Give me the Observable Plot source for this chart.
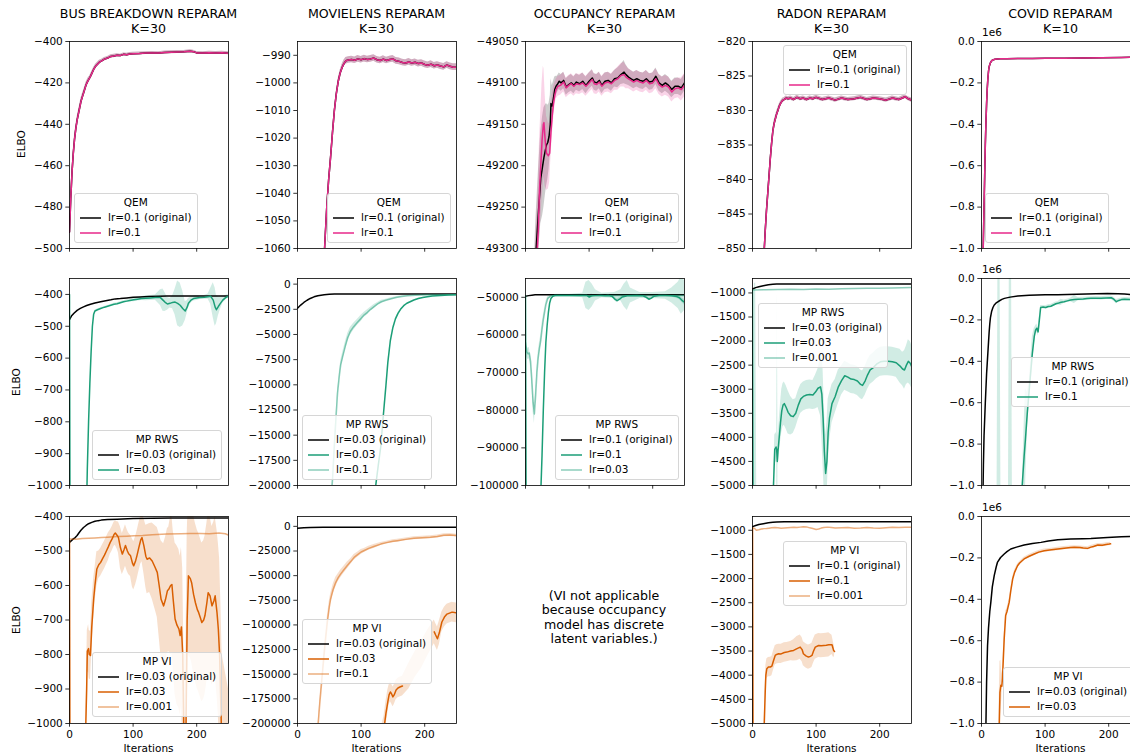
<!DOCTYPE html>
<html><head><meta charset="utf-8">
<script src="https://cdn.jsdelivr.net/npm/d3@7"></script>
<script src="https://cdn.jsdelivr.net/npm/@observablehq/plot@0.6"></script>
<style>
body{margin:0;background:#fff;overflow:hidden;}
#fig{position:relative;width:1130px;height:755px;overflow:hidden;font-family:"DejaVu Sans",sans-serif;color:#000;background:#fff;}
.t{position:absolute;white-space:nowrap;}
.title{font-size:12.6px;line-height:14.5px;text-align:center;transform:translateX(-50%);}
.ylab{font-size:10.5px;transform:translate(-50%,-50%) rotate(-90deg);}
.xlab{font-size:10.5px;transform:translateX(-50%);}
.off{font-size:10.5px;}
.note{font-size:12.6px;line-height:14.4px;text-align:center;transform:translateX(-50%);}
.legend{position:absolute;border:1px solid #d6d6d6;border-radius:3px;background:rgba(255,255,255,0.8);font-size:10.5px;padding:1px 5px 2px 5px;white-space:nowrap;}
.lt{text-align:center;height:15px;line-height:15px;}
.le{display:flex;align-items:center;height:15px;line-height:15px;}
.le svg{margin-right:7px;flex:none;}
.plot{position:absolute;}
.plot svg{max-width:none !important;display:block;}
</style></head>
<body><div id="fig"></div>
<script>
// ---------------- data (iteration, ELBO, spread) ----------------
const BLACK = "#000000", GREEN = "#1b9e77", ORANGE = "#d95f02", PINK = "#e7298a";
const iterTicks = [0, 100, 200];

// QEM row
const busQemTicks = [-500, -480, -460, -440, -420, -400];
const busQem = [[0,-492,3],[2,-476,3],[4,-463,2],[6,-454,2],[8,-447,2],[10,-442,1.5],[12,-438,1.5],[14,-435,1.5],[16,-432,1.5],[18,-429,1.5],[20,-427,1.5],[23,-424,1.2],[26,-421,1.2],[29,-419,1.2],[32,-417.5,1],[35,-415.5,1],[38,-413.5,1],[41,-412,1],[44,-411,1],[47,-410,1],[50,-409.5,0.8],[55,-408.5,0.8],[60,-408,0.8],[65,-407.2,0.8],[70,-407,0.8],[75,-406.6,0.7],[80,-406.8,0.7],[85,-406.2,0.7],[90,-406.4,0.7],[95,-406,0.7],[100,-405.9,0.7],[110,-405.8,0.7],[120,-405.6,0.7],[130,-405.5,0.7],[140,-405.6,0.7],[150,-405.3,0.7],[160,-405.2,0.7],[170,-405.1,0.7],[180,-405,0.7],[190,-404.7,0.7],[195,-404.9,0.7],[200,-405.5,0.7],[210,-405.6,0.7],[220,-405.4,0.7],[230,-405.5,0.7],[240,-405.4,0.7],[250,-405.7,0.7]];

const movQemTicks = [-1060, -1050, -1040, -1030, -1020, -1010, -1000, -990];
const movQem = [[0,-1400,0],[20,-1200,0],[35,-1100,0],[40,-1072,1],[43,-1058,1],[46,-1045,1],[49,-1035,1],[52,-1027,1],[55,-1018,1],[58,-1010,1],[61,-1004,1],[64,-999.5,1],[67,-996.5,1],[70,-994.5,1.2],[73,-993,1.2],[76,-992,1.2],[80,-991.7,1.2],[85,-991.5,1.2],[90,-991.8,1.2],[95,-991.3,1.2],[100,-991.6,1.2],[105,-991.2,1.2],[110,-991.5,1.2],[115,-991.3,1.2],[120,-991.0,1.2],[125,-991.6,1.2],[130,-991.9,1.2],[135,-991.4,1.2],[140,-991.9,1.2],[145,-991.5,1.2],[150,-991.3,1.2],[155,-992.0,1.2],[160,-992.2,1.2],[165,-992.6,1.2],[170,-992.8,1.2],[175,-992.4,1.2],[180,-992.8,1.2],[185,-992.5,1.2],[190,-993.0,1.2],[195,-992.8,1.2],[200,-993.3,1.2],[205,-993.6,1.2],[210,-993.2,1.2],[215,-993.8,1.2],[220,-993.5,1.2],[225,-993.9,1.2],[230,-994.2,1.2],[235,-993.5,1.2],[240,-994.0,1.2],[245,-994.3,1.2],[250,-994.3,1.2]];

const occQemTicks = [-49300, -49250, -49200, -49150, -49100, -49050];
const occQemOrig = [[0,-49600,0],[10,-49420,20],[16,-49310,40],[20,-49260,50],[24,-49215,55],[27,-49200,60],[29,-49190,60],[31,-49182,55],[33,-49175,50],[35,-49172,45],[37,-49165,40],[39,-49150,35],[40,-49125,30],[42,-49128,25],[44,-49118,20],[46,-49108,15],[48,-49104,12],[50,-49102,10],[53,-49098,10],[56,-49100,10],[60,-49097,10],[64,-49105,10],[68,-49102,10],[72,-49100,10],[76,-49103,10],[80,-49099,10],[85,-49101,10],[90,-49098,10],[95,-49103,10],[100,-49098,10],[105,-49094,10],[108,-49099,10],[112,-49100,10],[116,-49097,10],[120,-49103,10],[125,-49098,10],[130,-49097,10],[135,-49100,10],[140,-49095,10],[145,-49094,12],[150,-49090,12],[155,-49087,14],[158,-49090,12],[162,-49093,10],[166,-49095,10],[170,-49097,10],[175,-49095,10],[180,-49097,10],[185,-49098,10],[190,-49095,10],[195,-49099,10],[200,-49098,10],[205,-49092,10],[210,-49100,10],[215,-49103,10],[220,-49100,10],[225,-49103,10],[230,-49108,10],[235,-49104,10],[240,-49104,10],[245,-49106,10],[250,-49100,10]];
const occQemLr01 = [[0,-49600,0],[10,-49420,20],[17,-49320,45],[20,-49280,55],[22,-49230,60],[24,-49200,65],[26,-49170,70],[28,-49150,70],[29,-49148,65],[31,-49170,55],[33,-49185,45],[36,-49188,40],[38,-49185,35],[40,-49160,30],[42,-49140,25],[44,-49125,20],[46,-49115,15],[48,-49108,12],[51,-49104,12],[55,-49103,12],[60,-49099,12],[64,-49106,12],[68,-49103,12],[72,-49101,12],[76,-49104,12],[80,-49101,12],[85,-49102,12],[90,-49100,12],[95,-49104,12],[100,-49100,12],[105,-49096,12],[108,-49101,12],[112,-49102,12],[116,-49099,12],[120,-49104,12],[125,-49100,12],[130,-49099,12],[135,-49101,12],[140,-49097,12],[145,-49095,14],[150,-49091,14],[155,-49090,15],[158,-49093,14],[162,-49095,12],[166,-49097,12],[170,-49099,12],[175,-49097,12],[180,-49099,12],[185,-49100,12],[190,-49097,12],[195,-49101,12],[200,-49100,12],[205,-49095,12],[210,-49102,12],[215,-49105,12],[220,-49103,12],[225,-49105,12],[230,-49111,12],[235,-49107,12],[240,-49106,12],[245,-49108,14],[250,-49103,14]];

const radQemTicks = [-850, -845, -840, -835, -830, -825, -820];
const radQem = [[0,-900,0],[10,-872,0],[15,-860,0.5],[18,-851,0.5],[20,-847.5,0.5],[22,-844.5,0.5],[24,-842,0.5],[26,-839.5,0.5],[28,-837,0.5],[30,-834.8,0.4],[32,-833,0.4],[34,-831.9,0.4],[36,-831.2,0.4],[38,-830.5,0.4],[40,-830,0.4],[42,-829.4,0.3],[44,-829,0.3],[46,-828.7,0.3],[48,-828.5,0.3],[50,-828.4,0.3],[53,-828.2,0.3],[56,-828.3,0.3],[60,-828.2,0.3],[65,-828.4,0.3],[70,-828.1,0.3],[75,-828.3,0.3],[80,-828.2,0.3],[85,-828.4,0.3],[90,-828.2,0.3],[95,-828.3,0.3],[100,-828.1,0.3],[110,-828.4,0.3],[120,-828.2,0.3],[130,-828.5,0.3],[140,-828.2,0.3],[150,-828.4,0.3],[160,-828.3,0.3],[170,-828.1,0.3],[180,-828.4,0.3],[190,-828.2,0.3],[200,-828.3,0.3],[210,-828.5,0.3],[220,-828.2,0.3],[230,-828.4,0.3],[240,-828.0,0.3],[245,-828.3,0.3],[250,-828.5,0.3]];

const covTicks = [-1000000, -800000, -600000, -400000, -200000, 0];
const covQem = [[0,-1500000],[2,-1100000],[3,-950000],[4,-800000],[5,-650000],[6,-500000],[7,-390000],[8,-300000],[9,-230000],[10,-180000],[11,-145000],[12,-122000],[14,-103000],[16,-93000],[18,-89000],[21,-86000],[25,-84500],[30,-83500],[40,-83000],[60,-82500],[80,-82000],[100,-81500],[130,-81000],[160,-80000],[190,-78500],[220,-77000],[250,-75500]];

// MP RWS row
const busRwsTicks = [-1000, -900, -800, -700, -600, -500, -400];
const busRwsOrig = [[0,-479],[3,-468],[7,-459],[12,-450],[17,-444],[22,-439],[27,-435],[33,-431],[40,-427],[49,-423],[57,-420],[65,-417],[72,-414],[80,-413],[90,-411],[100,-409],[111,-408],[125,-406.5],[140,-405.5],[153,-405],[170,-405],[200,-405],[250,-405]];
const busRwsLr003 = [[0,-400,30],[1,-1300,0],[10,-1500,0],[26,-1150,0],[28,-950,0],[30,-800,0],[32,-680,0],[34,-580,0],[36,-500,0],[38,-462,2],[40,-452,2],[44,-448,2],[49,-444,2],[55,-440,2],[60,-437,2],[65,-434,2],[70,-431,3],[75,-429,3],[80,-426,3],[85,-423,3],[90,-421,4],[95,-419,4],[101,-417,6],[107,-415,6],[113,-413,6],[120,-412,8],[127,-411,8],[135,-410,8],[143,-410,25],[147,-418,35],[150,-424,30],[154,-430,20],[158,-428,15],[162,-425,20],[166,-424,40],[170,-428,70],[174,-434,70],[178,-444,55],[182,-452,30],[185,-440,20],[187,-428,15],[191,-418,10],[195,-413,8],[200,-411,8],[205,-410,6],[212,-409,6],[218,-407,8],[222,-406,25],[226,-418,55],[229,-440,60],[231,-448,45],[234,-438,30],[237,-429,20],[241,-418,10],[245,-411,8],[250,-405,5]];

const movRwsTicks = [-20000, -17500, -15000, -12500, -10000, -7500, -5000, -2500, 0];
const movRwsOrig = [[0,-2400],[5,-2080],[10,-1820],[15,-1600],[20,-1420],[26,-1260],[32,-1150],[42,-1050],[50,-1010],[58,-990],[70,-980],[100,-975],[150,-975],[200,-975],[250,-975]];
const movRwsLr01 = [[0,-60000,0],[40,-35000,0],[52,-22000,300],[55,-19500,300],[58,-16000,350],[61,-12800,400],[63,-10800,400],[66,-9000,400],[68,-8000,400],[71,-7200,400],[75,-6200,400],[79,-5300,400],[83,-4700,400],[88,-4250,350],[94,-3800,300],[100,-3400,300],[105,-3050,250],[110,-2800,250],[115,-2500,200],[120,-2250,200],[126,-1970,150],[132,-1750,150],[139,-1600,100],[146,-1480,100],[155,-1330,80],[164,-1220,60],[173,-1150,50],[185,-1100,40],[197,-1070,30],[209,-1055,30],[225,-1050,30],[250,-1048,30]];
const movRwsLr003 = [[0,-80000,0],[100,-40000,0],[118,-25000,0],[123,-20000,100],[127,-18000,100],[131,-16100,100],[135,-13000,100],[139,-10100,100],[142,-7800,100],[146,-5600,100],[150,-4300,80],[154,-3450,60],[158,-2900,50],[162,-2500,40],[167,-2140,30],[172,-1900,30],[178,-1730,30],[183,-1580,30],[190,-1420,30],[197,-1320,30],[204,-1250,30],[212,-1190,30],[225,-1120,30],[237,-1080,30],[250,-1053,30]];

const occRwsTicks = [-100000, -90000, -80000, -70000, -60000, -50000];
const occRwsOrig = [[0,-49700],[5,-49550],[10,-49420],[15,-49350],[20,-49320],[30,-49300],[250,-49300]];
const occRwsLr01 = [[0,-49600,0],[1,-110000,0],[20,-110000,0],[24,-102000,0],[26,-92000,0],[28,-80000,0],[30,-70000,0],[32,-62000,0],[34,-57500,0],[36,-54000,0],[38,-51500,0],[40,-50300,0],[43,-49700,0],[46,-49500,0],[60,-49500,0],[80,-49500,0],[96,-49500,0],[100,-49900,500],[104,-49600,500],[110,-49550,0],[118,-49500,0],[125,-49600,0],[130,-49500,0],[136,-49700,300],[140,-50400,500],[144,-50900,500],[148,-50500,400],[152,-49900,300],[160,-49600,0],[175,-49500,0],[185,-49600,300],[190,-50000,400],[194,-50500,400],[198,-50200,300],[202,-49700,0],[210,-49500,0],[220,-49500,0],[230,-49600,300],[238,-49800,500],[242,-50100,500],[246,-50800,600],[250,-51300,800]];
const occRwsLr003 = [[0,-62000,800],[2,-64500,1500],[4,-65000,1500],[6,-64800,1500],[8,-67000,1500],[10,-72000,2000],[12,-78000,2500],[14,-81000,2500],[16,-76000,2000],[18,-70000,2000],[20,-66000,1500],[22,-63500,1500],[24,-61500,1500],[26,-58500,1500],[28,-56000,1200],[30,-54000,1000],[32,-52000,800],[35,-50300,500],[40,-49600,300],[50,-49500,300],[70,-49500,300],[90,-49500,600],[95,-49500,3500],[100,-49500,4000],[105,-49500,3000],[110,-49500,1500],[120,-49500,600],[140,-49500,800],[150,-49500,1500],[155,-49500,3000],[160,-49500,4000],[165,-49500,2000],[180,-49500,800],[200,-49500,800],[220,-49500,1000],[230,-49500,2000],[240,-49500,3500],[245,-49500,5000],[250,-49500,4000]];

const radRwsTicks = [-5000, -4500, -4000, -3500, -3000, -2500, -2000, -1500, -1000];
const radRwsOrig = [[0,-917],[5,-890],[10,-870],[17,-849],[25,-830],[32,-820],[38,-815],[50,-813],[250,-813]];
const radRwsLr003 = [[0,-950,0],[1,-6000,0],[2,-6000,0],[3,-6000,5200],[5,-6000,5200],[7,-6000,0],[30,-6000,0],[33,-5000,100],[35,-4250,300],[37,-4200,300],[38,-4250,300],[39,-4500,3500],[40,-4300,300],[42,-4000,350],[44,-3700,400],[46,-3450,450],[48,-3330,450],[50,-3300,450],[53,-3380,450],[56,-3480,450],[60,-3550,400],[64,-3570,350],[68,-3500,300],[72,-3330,300],[76,-3200,300],[80,-3150,300],[85,-3120,300],[90,-3110,300],[95,-3120,300],[99,-3060,350],[103,-2980,400],[107,-2950,600],[109,-3100,900],[111,-3600,1000],[113,-4300,900],[115,-4750,800],[117,-4500,800],[119,-3900,700],[121,-3600,500],[125,-3300,400],[130,-3150,350],[135,-2950,350],[140,-2820,300],[145,-2720,300],[150,-2750,300],[155,-2790,300],[160,-2800,300],[165,-2830,300],[170,-2900,300],[173,-2920,300],[177,-2830,300],[181,-2700,300],[185,-2600,300],[190,-2550,300],[195,-2480,300],[201,-2430,300],[207,-2420,300],[213,-2420,300],[220,-2430,300],[226,-2450,300],[232,-2520,350],[236,-2580,350],[239,-2600,400],[242,-2500,400],[245,-2420,450],[248,-2460,450],[250,-2520,450]];
const radRwsLr0001 = [[0,-940],[20,-935],[40,-930],[60,-925],[80,-930],[100,-920],[120,-925],[140,-915],[160,-910],[180,-905],[200,-900],[220,-895],[250,-885]];

const covRwsOrig = [[0,-1500000],[2,-1100000],[3,-900000],[4,-760000],[5,-680000],[6,-600000],[7,-530000],[8,-460000],[9,-410000],[10,-360000],[11,-310000],[12,-260000],[13,-220000],[14,-190000],[16,-158000],[18,-140000],[20,-128000],[23,-118000],[27,-110000],[32,-101000],[36,-96000],[45,-90000],[57,-84000],[75,-81000],[100,-79000],[120,-78000],[150,-76000],[180,-74000],[198,-73000],[215,-73500],[225,-75000],[235,-78000],[250,-80000]];
const covRwsLr01 = [[0,-1500000,0],[24,-1450000,0],[26,-1450000,1700000],[29,-1450000,1700000],[31,-1440000,0],[42,-1400000,0],[44,-1400000,1700000],[47,-1400000,1700000],[49,-1390000,0],[60,-1300000,0],[64,-1000000,0],[67,-860000,150000],[69,-780000,250000],[72,-650000,100000],[75,-540000,40000],[78,-430000,60000],[80,-360000,80000],[83,-280000,40000],[85,-250000,20000],[87,-240000,20000],[89,-258000,20000],[91,-200000,15000],[93,-140000,10000],[97,-138000,8000],[101,-140000,8000],[105,-135000,8000],[109,-134000,8000],[113,-128000,8000],[117,-122000,8000],[120,-120000,8000],[125,-115000,15000],[130,-112000,8000],[135,-108000,8000],[140,-104000,8000],[146,-101000,20000],[152,-100000,8000],[160,-99000,8000],[166,-97000,8000],[172,-96000,8000],[180,-95000,8000],[188,-96000,8000],[196,-94000,8000],[204,-93000,8000],[208,-100000,10000],[212,-112000,10000],[216,-106000,8000],[220,-102000,8000],[225,-100000,8000],[235,-101000,8000],[250,-100000,8000]];

// MP VI row
const busViTicks = [-1000, -900, -800, -700, -600, -500, -400];
const busViOrig = [[0,-475],[3,-470],[6,-465],[9,-461],[12,-455],[15,-447],[18,-440],[22,-432],[26,-426],[30,-421],[35,-417],[40,-414],[45,-412],[50,-410.5],[60,-409],[75,-407.7],[100,-406],[130,-405],[160,-404.5],[200,-404],[250,-404]];
const busViLr003 = [[0,-470,0],[1,-1400,0],[20,-1300,0],[25,-1050,0],[27,-900,50],[28,-790,60],[30,-783,70],[31,-800,70],[33,-803,70],[35,-720,70],[38,-639,60],[40,-600,50],[43,-552,50],[46,-540,40],[49,-533,40],[52,-522,40],[55,-512,40],[58,-500,40],[61,-488,40],[64,-475,35],[67,-465,35],[70,-452,35],[72,-448,35],[75,-455,40],[77,-461,45],[80,-490,60],[83,-509,60],[86,-495,60],[88,-484,60],[91,-500,60],[93,-508,60],[96,-514,60],[99,-535,70],[101,-543,70],[104,-528,70],[106,-514,70],[109,-490,70],[112,-468,70],[114,-461,70],[117,-485,80],[120,-515,90],[122,-524,100],[126,-520,100],[130,-529,110],[134,-545,120],[138,-562,130],[141,-600,150],[144,-640,170],[148,-659,180],[151,-640,180],[154,-615,180],[156,-611,180],[159,-600,200],[161,-597,200],[163,-640,200],[166,-697,220],[169,-715,230],[172,-726,230],[174,-745,230],[176,-720,230],[178,-800,250],[180,-1050,250],[183,-1050,250],[185,-700,250],[187,-572,230],[190,-580,230],[192,-592,230],[195,-625,230],[198,-650,230],[201,-670,230],[203,-678,230],[206,-695,230],[208,-707,230],[211,-700,230],[213,-687,230],[216,-650,230],[218,-621,230],[221,-630,230],[224,-659,230],[227,-645,230],[229,-630,230],[232,-680,240],[234,-726,250],[236,-800,280],[238,-950,300],[240,-1100,300],[250,-1200,300]];
const busViLr0001 = [[0,-465],[10,-466],[20,-464],[30,-463],[40,-462],[50,-461],[60,-460],[75,-458],[90,-457],[101,-456],[115,-455],[130,-453],[153,-451],[175,-450],[190,-449],[205,-449],[220,-450],[235,-448],[245,-450],[250,-454]];

const movViTicks = [-200000, -175000, -150000, -125000, -100000, -75000, -50000, -25000, 0];
const movViOrig = [[0,-2000],[10,-1500],[20,-1200],[40,-1000],[250,-1000]];
const movViLr01 = [[0,-600000,0],[25,-260000,0],[32,-205000,4000],[35,-180000,5000],[39,-151000,6000],[43,-122000,6000],[47,-97000,6000],[50,-82000,6000],[52,-74000,5000],[56,-64000,5000],[60,-57000,5000],[64,-52000,4000],[68,-48200,4000],[73,-44000,3500],[78,-40000,3500],[84,-35500,3000],[89,-31500,3000],[95,-28500,2500],[100,-26000,2500],[105,-24500,2000],[112,-22300,2000],[120,-20500,2000],[131,-18000,1500],[140,-16500,1500],[150,-15200,1500],[157,-14500,1500],[170,-13200,1500],[183,-12100,1500],[196,-11500,1500],[209,-11100,1500],[220,-10300,1500],[230,-9000,1500],[240,-8800,1500],[250,-9400,1500]];
const movViLr003 = [[0,-900000,0],[100,-400000,0],[125,-240000,10000],[130,-220000,12000],[136,-205000,12000],[139,-190000,12000],[142,-178000,12000],[144,-171000,10000],[146,-168000,10000],[148,-170000,10000],[150,-173000,10000],[152,-171000,10000],[155,-166000,10000],[158,-164000,10000],[161,-163000,10000],[165,-162000,10000],[166,null],[214,null],[215,-107000,12000],[217,-110000,12000],[220,-114000,12000],[223,-108000,12000],[227,-97000,10000],[231,-92000,10000],[235,-89000,10000],[239,-88000,10000],[243,-87000,10000],[247,-87500,10000],[250,-87700,10000]];
const movViLr003Gap = [[165,-162000,10000],[175,-152000,13000],[185,-140000,13000],[195,-130000,14000],[205,-118000,13000],[215,-107000,12000]];

const radViTicks = [-5000, -4500, -4000, -3500, -3000, -2500, -2000, -1500, -1000];
const radViOrig = [[0,-924],[5,-900],[10,-880],[17,-863],[25,-845],[32,-835],[38,-828],[50,-826],[70,-825],[250,-825]];
const radViLr01 = [[0,-950,0],[1,-6000,0],[17,-6000,0],[18.5,-5000,100],[20,-4350,200],[21,-4000,200],[22.5,-3866,200],[25,-3832,200],[28,-3830,200],[30.5,-3811,200],[33,-3700,200],[35.7,-3591,200],[38,-3570,200],[41,-3557,200],[45,-3560,200],[50,-3530,200],[54,-3522,200],[60,-3500,200],[64.6,-3488,220],[70,-3450,250],[75,-3419,250],[78,-3470,250],[80,-3557,250],[84,-3600,250],[88,-3625,250],[91,-3610,250],[93.5,-3591,250],[96,-3500,250],[98.7,-3419,250],[104,-3385,250],[108,-3390,250],[112,-3385,250],[116,-3380,250],[120,-3371,250],[125,-3371,200],[127.6,-3488,150],[129,-3510,100]];
const radViLr0001 = [[0,-945],[3,-960],[6,-1000],[10,-990],[14,-975],[18,-966],[22,-965],[26,-958],[30,-950],[35,-945],[40,-950],[45,-960],[50,-955],[55,-950],[60,-945],[65,-940],[70,-945],[75,-935],[80,-925],[85,-930],[90,-950],[95,-965],[100,-985],[104,-975],[108,-955],[112,-945],[118,-935],[124,-945],[130,-955],[140,-950],[150,-945],[160,-960],[170,-955],[180,-945],[190,-955],[200,-960],[210,-950],[220,-940],[230,-945],[240,-940],[250,-935]];

const covViOrig = [[0,-2000000],[5,-1300000],[7,-1000000],[8,-800000],[9.5,-623000],[11,-540000],[13,-460000],[14.7,-414000],[17,-340000],[20,-286000],[23,-245000],[25,-222000],[30,-198000],[35.7,-181000],[40,-170000],[46,-157000],[55,-148000],[67,-138000],[80,-130000],[93.5,-125000],[105,-118000],[120,-112000],[140,-109000],[160,-107000],[172,-106000],[198,-101000],[220,-98000],[235,-96000],[250,-95000]];
const covViLr003 = [[0,-3000000,0],[25,-1300000,0],[28,-1000000,150000],[29,-850000,150000],[30.5,-815000,120000],[32,-820000,60000],[33,-780000,40000],[35.7,-591000,30000],[38,-478000,20000],[40,-460000,15000],[43.6,-414000,15000],[46,-360000,12000],[49,-302000,10000],[52,-270000,10000],[56.7,-238000,8000],[60,-225000,8000],[67,-205000,8000],[75,-192000,8000],[83,-181000,8000],[90,-172000,8000],[98.7,-165000,8000],[110,-161000,8000],[120,-157000,8000],[130,-153000,8000],[140,-150000,8000],[146,-149000,8000],[155,-150000,8000],[160,-152000,8000],[167,-154000,8000],[172,-148000,8000],[176,-145000,8000],[183,-138000,8000],[190,-139000,8000],[196,-135000,8000],[201,-133000,8000],[203,-132000,8000]];

// ---------------- layout ----------------
const W = 159, H = 207;
const colX = [69, 297, 525, 752, 981];
const rowY = [41, 278, 516];
const MG = {l: 70, r: 10, t: 10, b: 40};
const titles = [["BUS BREAKDOWN REPARAM","K=30"],["MOVIELENS REPARAM","K=30"],["OCCUPANCY REPARAM","K=30"],["RADON REPARAM","K=30"],["COVID REPARAM","K=10"]];

const S = (label, data, color, light) => ({label, data, color, opacity: light ? 0.5 : 1});
const panels = [
  {col:0,row:0,y:[-500,-400],ticks:busQemTicks,fmt:"int",lt:"QEM",at:[74,193],series:[S("lr=0.1 (original)",busQem,BLACK),S("lr=0.1",busQem,PINK)]},
  {col:1,row:0,y:[-1060,-985],ticks:movQemTicks,fmt:"int",lt:"QEM",at:[327,193],series:[S("lr=0.1 (original)",movQem,BLACK),S("lr=0.1",movQem,PINK)]},
  {col:2,row:0,y:[-49300,-49050],ticks:occQemTicks,fmt:"int",lt:"QEM",at:[555,193],series:[S("lr=0.1 (original)",occQemOrig,BLACK),S("lr=0.1",occQemLr01,PINK)]},
  {col:3,row:0,y:[-850,-820],ticks:radQemTicks,fmt:"int",lt:"QEM",at:[783,45],series:[S("lr=0.1 (original)",radQem,BLACK),S("lr=0.1",radQem,PINK)]},
  {col:4,row:0,y:[-1000000,0],ticks:covTicks,fmt:"e6",lt:"QEM",at:[985,193],series:[S("lr=0.1 (original)",covQem,BLACK),S("lr=0.1",covQem,PINK)]},

  {col:0,row:1,y:[-1000,-350],ticks:busRwsTicks,fmt:"int",lt:"MP RWS",at:[92,430],series:[S("lr=0.03 (original)",busRwsOrig,BLACK),S("lr=0.03",busRwsLr003,GREEN)]},
  {col:1,row:1,y:[-20000,560],ticks:movRwsTicks,fmt:"int",lt:"MP RWS",at:[302,415],series:[S("lr=0.03 (original)",movRwsOrig,BLACK),S("lr=0.03",movRwsLr003,GREEN),S("lr=0.1",movRwsLr01,GREEN,true)]},
  {col:2,row:1,y:[-100000,-45000],ticks:occRwsTicks,fmt:"int",lt:"MP RWS",at:[555,415],series:[S("lr=0.1 (original)",occRwsOrig,BLACK),S("lr=0.1",occRwsLr01,GREEN),S("lr=0.03",occRwsLr003,GREEN,true)]},
  {col:3,row:1,y:[-5000,-700],ticks:radRwsTicks,fmt:"int",lt:"MP RWS",at:[758,303],series:[S("lr=0.03 (original)",radRwsOrig,BLACK),S("lr=0.03",radRwsLr003,GREEN),S("lr=0.001",radRwsLr0001,GREEN,true)]},
  {col:4,row:1,y:[-1000000,0],ticks:covTicks,fmt:"e6",lt:"MP RWS",at:[1011,357],series:[S("lr=0.1 (original)",covRwsOrig,BLACK),S("lr=0.1",covRwsLr01,GREEN)]},

  {col:0,row:2,y:[-1000,-400],ticks:busViTicks,fmt:"int",lt:"MP VI",at:[92,652],series:[S("lr=0.03 (original)",busViOrig,BLACK),S("lr=0.03",busViLr003,ORANGE),S("lr=0.001",busViLr0001,ORANGE,true)]},
  {col:1,row:2,y:[-200000,10000],ticks:movViTicks,fmt:"int",lt:"MP VI",at:[302,619],series:[S("lr=0.03 (original)",movViOrig,BLACK),S("lr=0.03",movViLr003,ORANGE),S("lr=0.1",movViLr01,ORANGE,true),{data:movViLr003Gap,color:ORANGE,opacity:1,noLine:true}]},
  {col:3,row:2,y:[-5000,-715],ticks:radViTicks,fmt:"int",lt:"MP VI",at:[783,541],series:[S("lr=0.1 (original)",radViOrig,BLACK),S("lr=0.1",radViLr01,ORANGE),S("lr=0.001",radViLr0001,ORANGE,true)]},
  {col:4,row:2,y:[-1000000,0],ticks:covTicks,fmt:"e6",lt:"MP VI",at:[1003,667],series:[S("lr=0.03 (original)",covViOrig,BLACK),S("lr=0.03",covViLr003,ORANGE)]}
];

// ---------------- drawing ----------------
const fig = document.getElementById("fig");
function addText(cls, x, y, html) {
  const d = document.createElement("div");
  d.className = "t " + cls; d.style.left = x + "px"; d.style.top = y + "px"; d.innerHTML = html;
  fig.appendChild(d); return d;
}
const fmtInt = d3.format("d"), fmtE6 = d => d3.format(".1f")(d / 1e6);

for (const p of panels) {
  const fx = colX[p.col], fy = rowY[p.row];
  const bottom = p.row === 2;
  const marks = [];
  const rowsOf = s => s.data.map(([x, y, sd = 0]) => ({x, y, lo: y == null ? null : y - sd, hi: y == null ? null : y + sd, sd}));
  for (const s of p.series) {
    if (s.data.some(d => d[2])) marks.push(Plot.areaY(rowsOf(s), {x: "x", y1: "lo", y2: "hi", fill: s.color, fillOpacity: 0.2, clip: true}));
  }
  for (const s of p.series) {
    if (s.noLine) continue;
    marks.push(Plot.line(rowsOf(s), {x: "x", y: "y", stroke: s.color, strokeOpacity: s.opacity, strokeWidth: 1.5, clip: true}));
  }
  marks.push(Plot.frame({stroke: "black", strokeWidth: 0.8}));
  marks.push(Plot.axisY({ticks: p.ticks, tickFormat: p.fmt === "e6" ? fmtE6 : fmtInt, tickSize: 3.7, tickPadding: 3, strokeWidth: 0.8, fontSize: 10.5, label: null}));
  marks.push(Plot.axisX({ticks: iterTicks, tickFormat: bottom ? fmtInt : () => "", tickSize: 3.7, tickPadding: 3, strokeWidth: 0.8, fontSize: 10.5, label: null}));
  const w = W + MG.l + MG.r, h = H + MG.t + MG.b;
  const svg = Plot.plot({
    width: w, height: h,
    marginLeft: MG.l, marginRight: MG.r, marginTop: MG.t, marginBottom: MG.b,
    x: {domain: [0, 250]}, y: {domain: p.y},
    style: {fontFamily: "DejaVu Sans", fontSize: "10.5px", background: "transparent", overflow: "visible", color: "black", maxWidth: "none"},
    marks
  });
  const wrap = document.createElement("div");
  wrap.className = "plot"; wrap.style.left = (fx - MG.l) + "px"; wrap.style.top = (fy - MG.t) + "px";
  wrap.style.width = w + "px"; wrap.style.height = h + "px";
  wrap.appendChild(svg); fig.appendChild(wrap);

  if (p.fmt === "e6") addText("off", fx + 1, fy - 15, "1e6");
  if (bottom) addText("xlab", fx + W / 2, 742, "Iterations");

  // legend
  const lg = document.createElement("div");
  lg.className = "legend"; lg.style.left = p.at[0] + "px"; lg.style.top = p.at[1] + "px";
  let html = `<div class="lt">${p.lt}</div>`;
  for (const s of p.series) if (s.label) html += `<div class="le"><svg width="21" height="10"><line x1="0" x2="21" y1="5" y2="5" stroke="${s.color}" stroke-opacity="${s.opacity}" stroke-width="1.5"/></svg><span>${s.label}</span></div>`;
  lg.innerHTML = html; fig.appendChild(lg);
}

// column titles
titles.forEach((t, i) => addText("title", colX[i] + W / 2, 7, t.join("<br>")));
// y labels
addText("ylab", 21, 144, "ELBO");
addText("ylab", 16, 382, "ELBO");
addText("ylab", 16, 620, "ELBO");
// note in the empty cell
addText("note", 604, 589, "(VI not applicable<br>because occupancy<br>model has discrete<br>latent variables.)");
</script></body></html>
